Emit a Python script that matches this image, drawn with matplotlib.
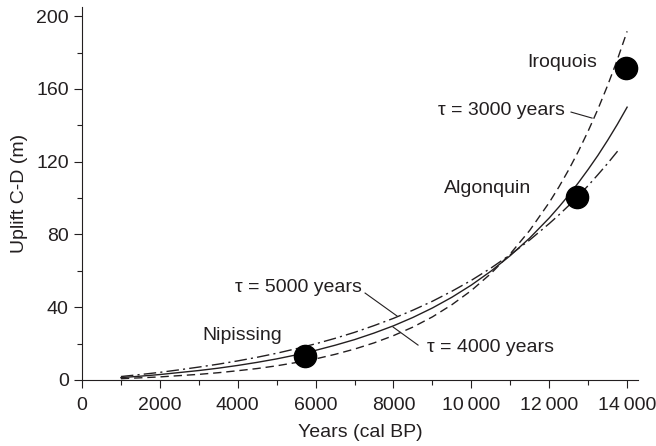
import matplotlib

matplotlib.use("Agg")
import matplotlib.pyplot as plt

plt.rcParams["font.family"] = ["Liberation Sans", "DejaVu Sans"]

INK = "#231f20"

# curve values (years cal BP, uplift m)
years = [1000, 1500, 2000, 2500, 3000, 3500, 4000, 4500, 5000, 5500, 6000, 6500, 7000,
         7500, 8000, 8500, 9000, 9500, 10000, 10500, 11000, 11500, 12000, 12250, 12500,
         12750, 13000, 13250, 13500, 13750, 14000]
uplift_tau3000 = [0.7, 1.2, 1.7, 2.4, 3.1, 4.0, 5.1, 6.3, 7.8, 9.6, 11.6, 14.1, 17.0,
                  20.4, 24.4, 29.1, 34.7, 41.4, 49.2, 58.5, 69.4, 82.3, 97.6, 106.2, 115.6,
                  125.8, 136.9, 148.9, 162.0, 176.2, 191.7]
uplift_tau4000 = [1.3, 2.1, 3.0, 4.1, 5.2, 6.5, 8.0, 9.7, 11.6, 13.8, 16.3, 19.1, 22.2,
                  25.8, 29.8, 34.4, 39.6, 45.5, 52.2, 59.8, 68.4, 78.1, 89.1, 95.2, 101.6,
                  108.5, 115.8, 123.5, 131.8, 140.6, 150.0]
years_tau5000 = [1000, 1500, 2000, 2500, 3000, 3500, 4000, 4500, 5000, 5500, 6000, 6500,
                 7000, 7500, 8000, 8500, 9000, 9500, 10000, 10500, 11000, 11500, 12000,
                 12250, 12500, 12750, 13000, 13250, 13500, 13800]
uplift_tau5000 = [1.9, 3.0, 4.2, 5.6, 7.1, 8.7, 10.5, 12.5, 14.7, 17.2, 19.9, 22.9, 26.2,
                  29.9, 33.9, 38.4, 43.3, 48.8, 54.8, 61.5, 68.9, 77.0, 86.0, 90.8, 95.9,
                  101.3, 106.9, 112.9, 119.1, 127.0]

# shoreline data points
shore_names = ["Nipissing", "Algonquin", "Iroquois"]
shore_years = [5730, 12700, 13960]
shore_uplift = [13.2, 100.5, 171.5]

x_ticks = [0, 2000, 4000, 6000, 8000, 10000, 12000, 14000]
x_tick_labels = ["0", "2000", "4000", "6000", "8000", "10\u2009000", "12\u2009000", "14\u2009000"]
y_ticks = [0, 40, 80, 120, 160, 200]

fig = plt.figure(figsize=(6.56, 4.46), dpi=100)
ax = fig.add_axes([0.125, 0.148, 0.8476, 0.836])

ax.plot(years, uplift_tau3000, color=INK, lw=1.0, linestyle=(0, (6, 3.5)))
ax.plot(years, uplift_tau4000, color=INK, lw=1.0, linestyle="-")
ax.plot(years_tau5000, uplift_tau5000, color=INK, lw=1.0,
        linestyle=(0, (9, 3, 1.5, 3)))
ax.plot(shore_years, shore_uplift, "o", color="black", markersize=16, zorder=5)

fs = 14
# shoreline labels
ax.text(3080, 24.7, "Nipissing", ha="left", va="center", fontsize=fs, color=INK)
ax.text(11530, 105.5, "Algonquin", ha="right", va="center", fontsize=fs, color=INK)
ax.text(13230, 174.7, "Iroquois", ha="right", va="center", fontsize=fs, color=INK)

# curve labels with leader lines
ax.text(12410, 148.4, "\u03c4 = 3000 years", ha="right", va="center", fontsize=fs, color=INK)
ax.plot([12560, 13100], [147.3, 144.0], color=INK, lw=0.8)
ax.text(3930, 51.1, "\u03c4 = 5000 years", ha="left", va="center", fontsize=fs, color=INK)
ax.plot([7270, 8090], [47.8, 35.2], color=INK, lw=0.8)
ax.text(8860, 18.1, "\u03c4 = 4000 years", ha="left", va="center", fontsize=fs, color=INK)
ax.plot([7990, 8630], [29.1, 19.2], color=INK, lw=0.8)

ax.set_xlim(0, 14280)
ax.set_ylim(0, 205)
ax.set_xticks(x_ticks)
ax.set_xticklabels(x_tick_labels)
ax.set_yticks(y_ticks)
ax.set_xticks(range(1000, 14001, 2000), minor=True)
ax.set_yticks(range(20, 201, 40), minor=True)

for side in ["top", "right"]:
    ax.spines[side].set_visible(False)
for side in ["left", "bottom"]:
    ax.spines[side].set_color(INK)
    ax.spines[side].set_linewidth(0.8)

ax.tick_params(which="major", direction="out", length=6, width=0.8, color=INK,
               labelsize=fs, labelcolor=INK)
ax.tick_params(which="minor", direction="out", length=3.5, width=0.8, color=INK)
ax.tick_params(axis="x", which="major", pad=6.5)

ax.set_xlabel("Years (cal BP)", fontsize=fs, color=INK, labelpad=7)
ax.set_ylabel("Uplift C-D (m)", fontsize=fs, color=INK, labelpad=6)

fig.savefig("out.png", dpi=100)
